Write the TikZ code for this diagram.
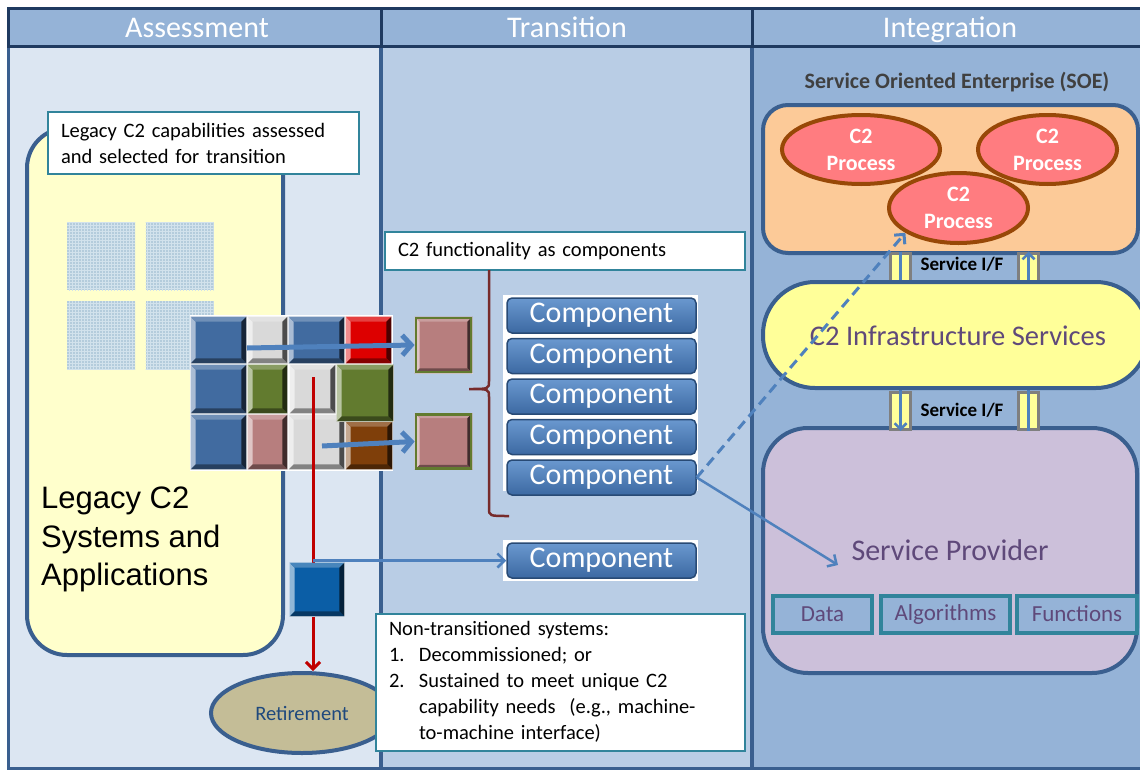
\documentclass[tikz,border=0pt]{standalone}
\usepackage{fontspec}
\setmainfont{Carlito}
\newfontfamily\arialfont{Liberation Sans}
\usetikzlibrary{arrows.meta,shapes.geometric,patterns,positioning}

\definecolor{hdrBlue}{HTML}{95B3D7}
\definecolor{frameNavy}{HTML}{1F3A60}
\definecolor{frameBlue}{HTML}{3A5F8F}
\definecolor{colAssess}{HTML}{DCE6F2}
\definecolor{colTrans}{HTML}{B9CDE5}
\definecolor{colInteg}{HTML}{95B3D7}
\definecolor{legacyYellow}{HTML}{FFFFCC}
\definecolor{noteTeal}{HTML}{31849B}
\definecolor{texBlue}{HTML}{B4CCDC}
\definecolor{texLine}{HTML}{D2E2EC}
\definecolor{tileBlue}{HTML}{416BA0}
\definecolor{tileGray}{HTML}{D9D9D9}
\definecolor{tileRed}{HTML}{DD0000}
\definecolor{tileGreen}{HTML}{627B2F}
\definecolor{tilePink}{HTML}{B77E7E}
\definecolor{tileBrown}{HTML}{7F3F0A}
\definecolor{tileDeep}{HTML}{0B5EA6}
\definecolor{arrowBlue}{HTML}{4F81BD}
\definecolor{retireRed}{HTML}{C00000}
\definecolor{retireTan}{HTML}{C4BD97}
\definecolor{retireText}{HTML}{1F497D}
\definecolor{braceRed}{HTML}{772B2B}
\definecolor{btnTop}{HTML}{6A98CF}
\definecolor{btnBot}{HTML}{3C69A2}
\definecolor{btnEdge}{HTML}{284A75}
\definecolor{soePeach}{HTML}{FCCA98}
\definecolor{procPink}{HTML}{FF7C80}
\definecolor{procEdge}{HTML}{984807}
\definecolor{infraYellow}{HTML}{FFFF99}
\definecolor{spLilac}{HTML}{CCC0DA}
\definecolor{spPurple}{HTML}{5F497A}
\definecolor{pipeGray}{HTML}{7F7F7F}
\definecolor{soeGray}{HTML}{404040}

% bevelled tile: name, x, y, width, height, colour
\newcommand{\bevtile}[6]{%
  \node[tilebox, fill=#6, minimum width=#4, minimum height=#5] (#1) at (#2,#3) {};
  \fill[#6!45!white] (#1.north west) -- ([shift={(5,5)}]#1.north west) -- ([shift={(5,-5)}]#1.south west) -- (#1.south west) -- cycle;
  \fill[#6!75!white] (#1.north west) -- (#1.north east) -- ([shift={(-5,5)}]#1.north east) -- ([shift={(5,5)}]#1.north west) -- cycle;
  \fill[#6!35!black] (#1.north east) -- (#1.south east) -- ([shift={(-5,-5)}]#1.south east) -- ([shift={(-5,5)}]#1.north east) -- cycle;
  \fill[#6!60!black] (#1.south west) -- (#1.south east) -- ([shift={(-5,-5)}]#1.south east) -- ([shift={(5,-5)}]#1.south west) -- cycle;
}

\begin{document}
\begin{tikzpicture}[x=1pt,y=-1pt,
    every node/.style={inner sep=0pt},
    hdrtext/.style={anchor=base, text=white, font=\fontsize{30}{30}\selectfont},
    tilebox/.style={draw=white, line width=0.8},
    texbox/.style={fill=texBlue, minimum width=68, minimum height=68, postaction={pattern=grid, pattern color=texLine}},
    notebox/.style={draw=noteTeal, line width=2, fill=white, inner xsep=13, align=left, font=\fontsize{20.5}{26}\selectfont},
    compbtn/.style={rounded corners=5, draw=btnEdge, line width=1.5, top color=btnTop, bottom color=btnBot, minimum width=189, minimum height=35, text=white, font=\fontsize{30}{30}\selectfont},
    procell/.style={ellipse, draw=procEdge, line width=4, fill=procPink, text=white, align=center, font=\bfseries\fontsize{22}{27}\selectfont},
    ifpipe/.style={draw=pipeGray, line width=3, fill=infraYellow, minimum width=20, minimum height=36},
    spart/.style={draw=noteTeal, line width=4, fill=colInteg, text=spPurple, minimum height=37, font=\fontsize{23}{23}\selectfont},
    bigbox/.style={draw=frameBlue, line width=4},
    gridarrow/.style={arrowBlue, line width=5, -{Straight Barb[length=9pt,width=20pt]}},
    bluearrow/.style={arrowBlue, line width=2.5, -{Straight Barb[length=7pt,width=14pt]}},
    dasharrow/.style={arrowBlue, line width=3, dash pattern=on 10pt off 6pt, -{Straight Barb[length=7pt,width=14pt]}},
    retirearrow/.style={retireRed, line width=3, -{Straight Barb[length=7pt,width=14pt]}},
    ifarrow/.style={arrowBlue, line width=2.5, -{Straight Barb[length=6pt,width=12pt]}}]
  \useasboundingbox (0,0) rectangle (1140,771);

  % columns and header band
  \fill[colAssess] (8,46) rectangle (381,768);
  \fill[colTrans] (381,46) rectangle (752,768);
  \fill[colInteg] (752,46) rectangle (1145,768);
  \draw[frameBlue, line width=3] (8,46) rectangle (1145,768);
  \draw[frameBlue, line width=4] (381,46) -- (381,768) (752,46) -- (752,768);
  \fill[hdrBlue] (8,8) rectangle (1145,46);
  \draw[frameNavy, line width=3] (8,8) rectangle (1145,46) (381,8) -- (381,46) (752,8) -- (752,46);
  \node[hdrtext] (assessHdr) at (197,37) {Assessment};
  \node[hdrtext] (transHdr) at (567,37) {Transition};
  \node[hdrtext] (integHdr) at (950,37) {Integration};

  % assessment
  \node[bigbox, fill=legacyYellow, rounded corners=40, minimum width=256, minimum height=527] (legacy) at (155,391.5) {};
  \node[texbox] (texA) at (101,256) {};
  \node[texbox] (texB) at (179.5,256) {};
  \node[texbox] (texC) at (101,335) {};
  \node[texbox] (texD) at (179.5,335) {};
  \node[anchor=north west, align=left, font=\arialfont\fontsize{31}{38.5}\selectfont] (legacyText) at (41,487) {Legacy C2\\Systems and\\Applications};
  \node[notebox, minimum width=311, minimum height=62, text width=285] (legacyNote) at (203.5,143) {Legacy C2 capabilities assessed\\and selected for transition};

  \fill[white] (190,315) rectangle (393,471);
  \bevtile{tA1}{218.5}{340}{55}{46}{tileBlue}
  \bevtile{tA2}{267.5}{340}{39}{46}{tileGray}
  \bevtile{tA3}{316.5}{340}{55}{46}{tileBlue}
  \bevtile{tA4}{368.5}{340}{45}{46}{tileRed}
  \bevtile{tB1}{218.5}{389}{55}{48}{tileBlue}
  \bevtile{tB2}{267.5}{389}{39}{48}{tileGreen}
  \bevtile{tB3}{312.5}{389}{45}{48}{tileGray}
  \bevtile{tC1}{218.5}{442}{55}{54}{tileBlue}
  \bevtile{tC2}{267.5}{442}{39}{54}{tilePink}
  \bevtile{tC3}{316.5}{442}{55}{54}{tileGray}
  \bevtile{tC4}{369}{445.5}{46}{47}{tileBrown}
  \bevtile{tB4}{365}{393}{56}{56}{tileGreen}

  % transition
  \node[notebox, minimum width=360, minimum height=38, text width=334] (funcBox) at (565,251) {C2 functionality as components};
  \draw[braceRed, line width=2.5] (489,270) -- (489,381) .. controls (489,389) .. (469,389)
    .. controls (489,389) .. (489,397) -- (489,508) .. controls (489,516) .. (509,516);

  \bevtile{pinkA}{443.5}{345}{57}{56}{tilePink}
  \bevtile{pinkB}{443.5}{441.5}{57}{56}{tilePink}
  \draw[tileGreen, line width=2.5] ([shift={(1.5,1.5)}]pinkA.north west) rectangle ([shift={(-1.5,-1.5)}]pinkA.south east);
  \draw[tileGreen, line width=2.5] ([shift={(1.5,1.5)}]pinkB.north west) rectangle ([shift={(-1.5,-1.5)}]pinkB.south east);

  \coordinate (fromGray) at (247,348);
  \coordinate (fromGrayLow) at (322,446);
  \draw[gridarrow] (fromGray) -- (pinkA.west);
  \draw[gridarrow] (fromGrayLow) -- (pinkB.west);

  \fill[white] (503,295) rectangle (698,491);
  \fill[white] (503,540) rectangle (698,581);
  \node[compbtn] (comp1) at (601.5,315.5) {Component};
  \node[compbtn, below=4pt of comp1] (comp2) {Component};
  \node[compbtn, below=4pt of comp2] (comp3) {Component};
  \node[compbtn, below=4pt of comp3] (comp4) {Component};
  \node[compbtn, below=4pt of comp4] (comp5) {Component};
  \node[compbtn] (comp6) at (601.5,560.5) {Component};

  \node[ellipse, draw=frameBlue, line width=4, fill=retireTan, minimum width=182, minimum height=80, text=retireText, font=\fontsize{20.5}{20.5}\selectfont] (retire) at (302,713) {Retirement};
  \coordinate (retireStart) at (313,377);
  \draw[retirearrow] (retireStart) -- (retireStart |- retire.north);
  \draw[bluearrow] (retireStart |- comp6.west) -- (comp6.west);
  \bevtile{deepTile}{317}{589.5}{54}{53}{tileDeep}

  \node[notebox, minimum width=369, minimum height=137, text width=343] (nonTrans) at (560.5,682.5) {%
    \begin{tabular}{@{}p{30pt}@{}l@{}}
      \multicolumn{2}{@{}l@{}}{Non-transitioned systems:}\\
      1. & Decommissioned; or\\
      2. & Sustained to meet unique C2\\
         & capability needs\ \ (e.g., machine-\\
         & to-machine interface)
    \end{tabular}};

  % integration
  \node[font=\bfseries\fontsize{22}{22}\selectfont, text=soeGray] (soeTitle) at (957,82) {Service Oriented Enterprise (SOE)};
  \node[bigbox, fill=soePeach, rounded corners=25, minimum width=375, minimum height=148] (soe) at (950.5,179) {};
  \node[procell, minimum width=158, minimum height=69] (procA) at (861,149.5) {C2\\Process};
  \node[procell, minimum width=139, minimum height=69] (procB) at (1047.5,149.5) {C2\\Process};
  \node[procell, minimum width=139, minimum height=70] (procC) at (958.5,208) {C2\\Process};

  \node[bigbox, fill=spLilac, rounded corners=45, minimum width=374, minimum height=245] (sp) at (950,550.5) {};
  \node[text=spPurple, font=\fontsize{30}{30}\selectfont] (spText) at (950,550) {Service Provider};
  \node[spart, minimum width=99] (spData) at (822.5,614) {Data};
  \node[spart, minimum width=129] (spAlgo) at (945.5,614) {Algorithms};
  \node[spart, minimum width=120] (spFunc) at (1077,614) {Functions};

  \node[ifpipe] (pipeTL) at (900.5,271) {};
  \node[ifpipe] (pipeTR) at (1028.5,271) {};
  \node[ifpipe, minimum height=37] (pipeBL) at (900.5,411) {};
  \node[ifpipe, minimum height=37] (pipeBR) at (1028.5,411) {};
  \draw[ifarrow] (pipeTL.north) -- (pipeBL.south);
  \draw[ifarrow] (pipeBR.south) -- (pipeTR.north);

  \node[bigbox, fill=infraYellow, rounded corners=52, minimum width=385, minimum height=106] (infra) at (955.5,335) {};
  \node[text=spPurple, font=\fontsize{28.5}{28.5}\selectfont] (infraText) at (958,336) {C2 Infrastructure Services};
  \node[font=\bfseries\fontsize{19}{19}\selectfont] (ifTop) at (962,264) {Service I/F};
  \node[font=\bfseries\fontsize{19}{19}\selectfont] (ifBot) at (962,410) {Service I/F};

  % links out of the transition column
  \coordinate (spIn) at (838,565);
  \draw[dasharrow] (comp5.east) -- (procC.205);
  \draw[bluearrow] (comp5.east) -- (spIn);
\end{tikzpicture}
\end{document}
